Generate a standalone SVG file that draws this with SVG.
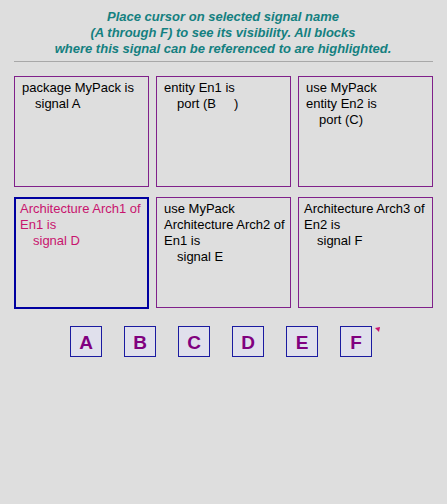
<svg xmlns="http://www.w3.org/2000/svg" width="447" height="504" viewBox="0 0 447 504">
<style>
.t{font-family:"Liberation Sans",Arial,sans-serif;font-size:13px;font-weight:bold;font-style:italic;fill:#148080;text-anchor:middle}
.blk{fill:none;stroke:#80208a;stroke-width:1}
.sel{fill:none;stroke:#0000a0;stroke-width:2}
.c{font-family:"Liberation Sans",Arial,sans-serif;font-size:13px;fill:#000}
.r{font-family:"Liberation Sans",Arial,sans-serif;font-size:13px;fill:#c8146e}
.btn{fill:#e0e0ec;stroke:#1a1aa0;stroke-width:1}
.bl{font-family:"Liberation Sans",Arial,sans-serif;font-size:19px;font-weight:bold;fill:#800080;text-anchor:middle}
</style>
<rect width="447" height="504" fill="#dedede"/>
<g id="title">
<text class="t" x="223" y="21">Place cursor on selected signal name</text>
<text class="t" x="223" y="37">(A through F) to see its visibility. All blocks</text>
<text class="t" x="223" y="53">where this signal can be referenced to are highlighted.</text>
<line x1="14" y1="61.5" x2="433" y2="61.5" stroke="#a8a8a8" stroke-width="1"/>
</g>
<g id="block-package">
<rect class="blk" x="14.5" y="76.5" width="134" height="110"/>
<text class="c" x="22" y="92">package MyPack is</text>
<text class="c" x="35" y="108">signal A</text>
</g>
<g id="block-entity-en1">
<rect class="blk" x="156.5" y="76.5" width="134" height="110"/>
<text class="c" x="164" y="92">entity En1 is</text>
<text class="c" x="177" y="108" xml:space="preserve">port (B     )</text>
</g>
<g id="block-entity-en2">
<rect class="blk" x="298.5" y="76.5" width="134" height="110"/>
<text class="c" x="306" y="92">use MyPack</text>
<text class="c" x="306" y="108">entity En2 is</text>
<text class="c" x="319" y="124">port (C)</text>
</g>
<g id="block-arch1">
<rect class="sel" x="15" y="198" width="133" height="110"/>
<text class="r" x="20" y="213">Architecture Arch1 of</text>
<text class="r" x="20" y="229">En1 is</text>
<text class="r" x="33" y="245">signal D</text>
</g>
<g id="block-arch2">
<rect class="blk" x="156.5" y="197.5" width="134" height="110"/>
<text class="c" x="164" y="213">use MyPack</text>
<text class="c" x="164" y="229">Architecture Arch2 of</text>
<text class="c" x="164" y="245">En1 is</text>
<text class="c" x="177" y="261">signal E</text>
</g>
<g id="block-arch3">
<rect class="blk" x="298.5" y="197.5" width="134" height="110"/>
<text class="c" x="304" y="213">Architecture Arch3 of</text>
<text class="c" x="304" y="229">En2 is</text>
<text class="c" x="317" y="245">signal F</text>
</g>
<g id="btn-A"><rect class="btn" x="70.5" y="326.5" width="31" height="30"/><text class="bl" x="86" y="349">A</text></g>
<g id="btn-B"><rect class="btn" x="124.5" y="326.5" width="31" height="30"/><text class="bl" x="140" y="349">B</text></g>
<g id="btn-C"><rect class="btn" x="178.5" y="326.5" width="31" height="30"/><text class="bl" x="194" y="349">C</text></g>
<g id="btn-D"><rect class="btn" x="232.5" y="326.5" width="31" height="30"/><text class="bl" x="248" y="349">D</text></g>
<g id="btn-E"><rect class="btn" x="286.5" y="326.5" width="31" height="30"/><text class="bl" x="302" y="349">E</text></g>
<g id="btn-F"><rect class="btn" x="340.5" y="326.5" width="31" height="30"/><text class="bl" x="356" y="349">F</text></g>
<g id="connectors"></g>
<polygon points="375,328 380,327 379,332" fill="#c8146e"/>
</svg>
